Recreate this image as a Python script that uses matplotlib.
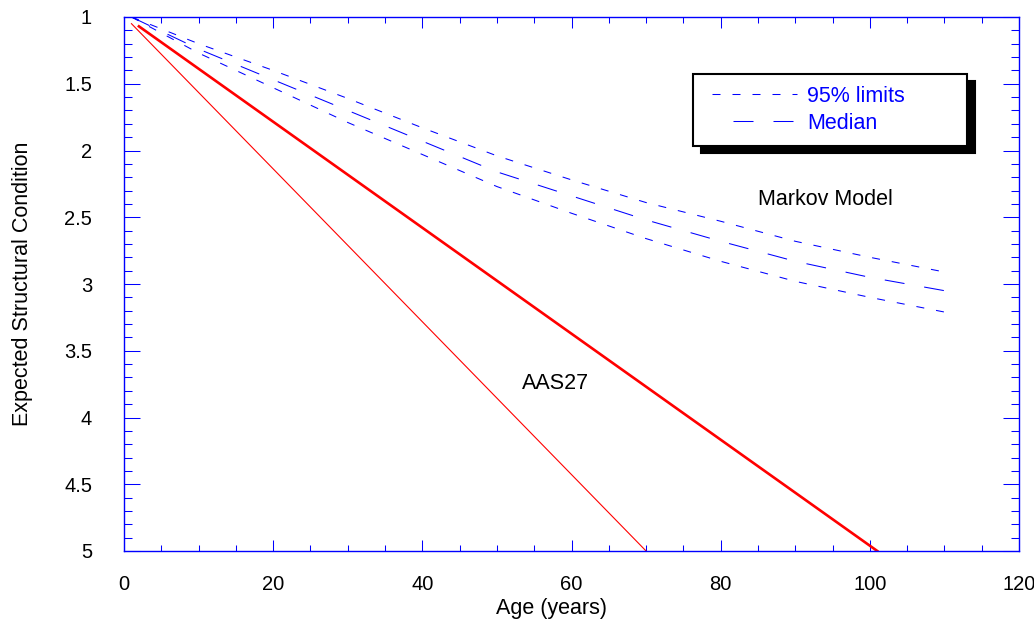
import matplotlib
matplotlib.use("Agg")
import matplotlib.pyplot as plt
from matplotlib.ticker import MultipleLocator, FormatStrFormatter
from matplotlib.legend_handler import HandlerLine2D

plt.rcParams['font.family'] = ['Liberation Sans', 'DejaVu Sans']
plt.rcParams['lines.scale_dashes'] = False

# Markov model: expected condition (median) with 95% limits
markov_age = [1, 10, 20, 30, 40, 50, 60, 70, 80, 90, 100, 110]
upper_95 = [1.00, 1.20, 1.40, 1.61, 1.83, 2.04, 2.22, 2.39, 2.53, 2.68, 2.80, 2.91]
median = [1.00, 1.24, 1.47, 1.70, 1.93, 2.16, 2.34, 2.52, 2.68, 2.83, 2.95, 3.05]
lower_95 = [1.00, 1.27, 1.53, 1.79, 2.03, 2.27, 2.47, 2.66, 2.83, 2.98, 3.10, 3.21]

# AAS27 straight-line deterioration
aas_fast_age = [1, 70]
aas_fast_cond = [1.05, 5.0]
aas_slow_age = [2, 101]
aas_slow_cond = [1.07, 5.0]

blue = '#0000ff'
red = '#ff0000'
short_dash = (0, (5.76, 8.64))
long_dash = (0, (14.4, 14.4))

fig = plt.figure(figsize=(10.34, 6.27), dpi=100)
ax = fig.add_axes([124 / 1034, 1 - 551 / 627, 895 / 1034, 534 / 627])

ax.plot(aas_fast_age, aas_fast_cond, color=red, lw=0.8)
ax.plot(aas_slow_age, aas_slow_cond, color=red, lw=1.9)

l_up, = ax.plot(markov_age, upper_95, color=blue, lw=0.75, linestyle=short_dash,
                label='95% limits')
ax.plot(markov_age, lower_95, color=blue, lw=0.75, linestyle=short_dash)
l_med, = ax.plot(markov_age, median, color=blue, lw=0.75, linestyle=long_dash,
                 label='Median')

ax.set_xlim(0, 120)
ax.set_ylim(5, 1)
ax.xaxis.set_major_locator(MultipleLocator(20))
ax.xaxis.set_minor_locator(MultipleLocator(5))
ax.yaxis.set_major_locator(MultipleLocator(0.5))
ax.yaxis.set_minor_locator(MultipleLocator(0.1))
ax.yaxis.set_major_formatter(FormatStrFormatter('%g'))

for sp in ax.spines.values():
    sp.set_color(blue)
    sp.set_linewidth(1.0)

ax.tick_params(which='both', direction='in', top=True, right=True,
               color=blue, width=0.75, labelsize=14.5, labelcolor='black')
ax.tick_params(axis='x', which='major', length=8, pad=17)
ax.tick_params(axis='x', which='minor', length=4.3)
ax.tick_params(axis='y', which='major', length=11.5, pad=23)
ax.tick_params(axis='y', which='minor', length=5.8)

ax.set_xlabel('Age (years)', fontsize=15.5, labelpad=3, x=0.478)
ax.set_ylabel('Expected Structural Condition', fontsize=15.5, labelpad=22)

ax.text(57.9, 3.79, 'AAS27', fontsize=15.5, ha='center', va='baseline')
ax.text(94.1, 2.41, 'Markov Model', fontsize=15.5, ha='center', va='baseline')

leg = ax.legend(
    handles=[l_up, l_med],
    handler_map={l_up: HandlerLine2D(xpad=0.33), l_med: HandlerLine2D(xpad=1.31)},
    loc='upper left', mode='expand',
    bbox_to_anchor=((693 - 124) / 895, 0, (967 - 693) / 895, (551 - 74) / 534),
    borderaxespad=0, borderpad=0.55, labelspacing=0.28,
    handlelength=4.28, handletextpad=0.46, fontsize=15.5,
    labelcolor=blue, fancybox=False, framealpha=1,
    shadow={'ox': 5.5, 'oy': -5, 'facecolor': 'black', 'edgecolor': 'black', 'alpha': 1},
)
leg.get_frame().set_edgecolor('black')
leg.get_frame().set_linewidth(1.5)

fig.savefig('out.png', dpi=100)
